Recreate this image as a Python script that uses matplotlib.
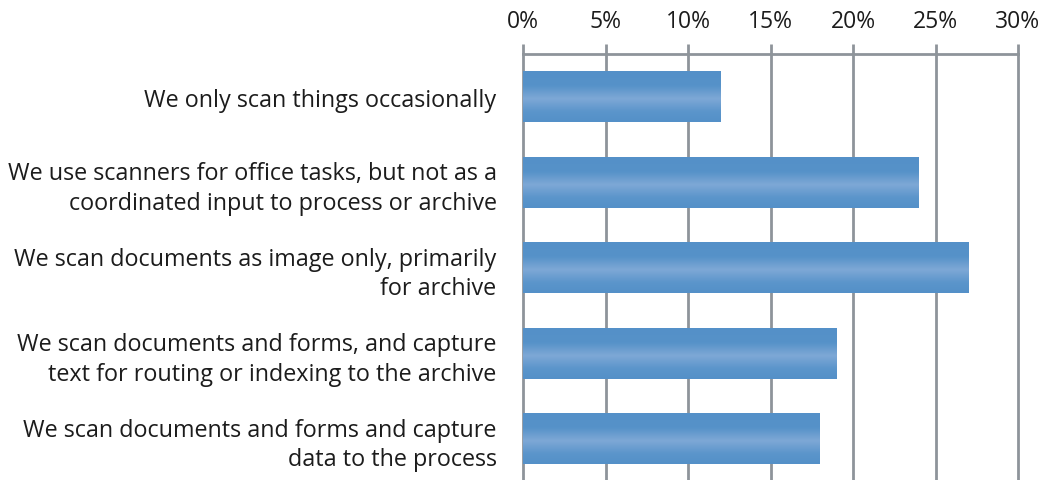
import numpy as np
import matplotlib.pyplot as plt
from matplotlib.colors import LinearSegmentedColormap

# Survey answers, top to bottom
categories = [
    "We only scan things occasionally",
    "We use scanners for office tasks, but not as a\ncoordinated input to process or archive",
    "We scan documents as image only, primarily\nfor archive",
    "We scan documents and forms, and capture\ntext for routing or indexing to the archive",
    "We scan documents and forms and capture\ndata to the process",
]
shares = [12, 24, 27, 19, 18]
xticks = [0, 5, 10, 15, 20, 25, 30]

plt.rcParams['font.family'] = ['Open Sans', 'DejaVu Sans']

fig = plt.figure(figsize=(10.44, 4.81), dpi=100)
ax = fig.add_axes([523 / 1044, -1.5 / 481, 495 / 1044, 427.5 / 481])

grid_col = '#8e949a'
text_col = '#1c1c1c'
y = np.arange(len(categories))
bars = ax.barh(y, shares, height=0.6, color='#5490c8', zorder=2)

# soft highlight stripe through the middle of each bar
cmap = LinearSegmentedColormap.from_list(
    'shine', [(0, '#5490c8'), (0.3, '#5692c9'), (0.55, '#7ea8d6'),
              (0.8, '#5b95cb'), (1, '#5490c8')])
grad = np.linspace(0, 1, 200).reshape(-1, 1)
for b in bars:
    x0, y0 = b.get_x(), b.get_y()
    w, h = b.get_width(), b.get_height()
    im = ax.imshow(grad, cmap=cmap, aspect='auto', extent=[x0, x0 + w, y0 + h, y0],
                   zorder=3, interpolation='bilinear')
    im.set_clip_path(b)

ax.set_xlim(0, 30)
ax.set_ylim(len(categories) - 0.5, -0.5)
ax.xaxis.tick_top()
ax.set_xticks(xticks)
ax.set_xticklabels([f"{t}%" for t in xticks], fontsize=16.5, color=text_col)
ax.tick_params(axis='x', length=7, width=2, color=grid_col, pad=8)
ax.set_yticks(y)
ax.set_yticklabels(categories, fontsize=16.8, color=text_col, ha='right',
                   multialignment='right', linespacing=1.3)
ax.tick_params(axis='y', length=0, pad=19)
ax.grid(axis='x', color=grid_col, linewidth=2, zorder=1)
for gl in ax.get_xgridlines():
    gl.set_clip_on(False)

for side in ['right', 'bottom', 'left']:
    ax.spines[side].set_visible(False)
ax.spines['top'].set_color(grid_col)
ax.spines['top'].set_linewidth(2)

fig.savefig('out.png', dpi=100)
